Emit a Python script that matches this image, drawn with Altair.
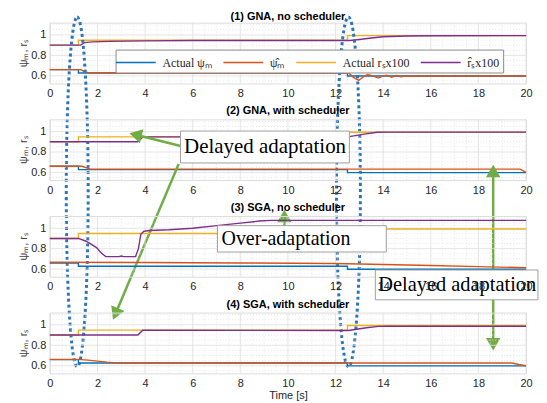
import altair as alt
import pandas as pd

SANS = "Liberation Sans"
SERIF = "Liberation Serif"

SERIES = ["Actual ψₘ", "ψ̂ₘ", "Actual rₛx100", "r̂ₛx100"]
COLORS = ["#0072BD", "#D95319", "#EDB120", "#7E2F8E"]
TITLES = ["(1) GNA, no scheduler", "(2) GNA, with scheduler",
          "(3) SGA, no scheduler", "(4) SGA, with scheduler"]

# actual values (same in every panel)
ACT_PSI_T = [0, 1.2, 1.2, 12.5, 12.5, 20]
ACT_PSI_V = [0.66, 0.66, 0.627, 0.627, 0.598, 0.598]
ACT_RS_T = [0, 1.2, 1.2, 12.5, 12.5, 20]
ACT_RS_V = [0.90, 0.90, 0.948, 0.948, 0.993, 0.993]

# panel 1: GNA, no scheduler
P1_PSI_T = [0, 1.3, 1.5, 1.7, 3, 12.55, 12.75, 12.97, 13.2, 13.35, 13.55, 13.8, 14.0, 14.15,
            14.35, 14.55, 14.75, 14.95, 15.2, 15.5, 20]
P1_PSI_V = [0.66, 0.66, 0.635, 0.628, 0.627, 0.627, 0.585, 0.555, 0.595, 0.612, 0.60, 0.578,
            0.60, 0.606, 0.585, 0.603, 0.59, 0.60, 0.595, 0.598, 0.598]
P1_RS_T = [0, 1.3, 1.45, 1.8, 2.5, 4, 6, 12.6, 13.0, 13.5, 14.0, 15, 16, 20]
P1_RS_V = [0.90, 0.90, 0.925, 0.932, 0.937, 0.942, 0.945, 0.945, 0.955, 0.97, 0.982, 0.99,
           0.992, 0.993]

# panel 2: GNA, with scheduler
P2_PSI_T = [0, 1.35, 1.7, 19.75, 20]
P2_PSI_V = [0.66, 0.66, 0.632, 0.632, 0.60]
P2_RS_T = [0, 3.7, 3.9, 12.5, 12.7, 13.2, 13.75, 14.2, 20]
P2_RS_V = [0.90, 0.90, 0.948, 0.948, 0.955, 0.975, 0.993, 0.995, 0.995]

# panel 3: SGA, no scheduler
P3_PSI_T = [0, 4, 8, 12, 14, 16, 18, 20]
P3_PSI_V = [0.667, 0.664, 0.66, 0.655, 0.645, 0.635, 0.624, 0.613]
P3_RS_T = [0, 1.2, 1.5, 1.68, 1.96, 2.15, 2.35, 2.9, 3.0, 3.1, 3.6, 3.72, 3.82, 3.95, 4.2, 5,
           6, 7, 8, 8.8, 9.3, 20]
P3_RS_V = [0.90, 0.90, 0.875, 0.852, 0.81, 0.76, 0.722, 0.722, 0.728, 0.722, 0.722, 0.80,
           0.94, 0.97, 0.978, 0.985, 1.0, 1.025, 1.05, 1.07, 1.077, 1.077]

# panel 4: SGA, with scheduler
P4_PSI_T = [0, 1.2, 1.6, 2.0, 2.4, 2.8, 3.2, 19.4, 19.7, 20]
P4_PSI_V = [0.662, 0.662, 0.655, 0.645, 0.635, 0.628, 0.626, 0.626, 0.612, 0.60]
P4_RS_T = [0, 3.7, 3.9, 12.55, 12.8, 13.3, 13.8, 14.2, 20]
P4_RS_V = [0.90, 0.90, 0.948, 0.945, 0.955, 0.972, 0.985, 0.987, 0.987]

EST = {1: (P1_PSI_T, P1_PSI_V, P1_RS_T, P1_RS_V),
       2: (P2_PSI_T, P2_PSI_V, P2_RS_T, P2_RS_V),
       3: (P3_PSI_T, P3_PSI_V, P3_RS_T, P3_RS_V),
       4: (P4_PSI_T, P4_PSI_V, P4_RS_T, P4_RS_V)}

X_TICKS = [0, 2, 4, 6, 8, 10, 12, 14, 16, 18, 20]
Y_TICKS = [0.6, 0.8, 1.0]
X_MINOR = [i * 0.5 for i in range(41) if i % 4 != 0]
Y_MINOR = [0.55, 0.65, 0.7, 0.75, 0.85, 0.9, 0.95, 1.05, 1.1]

# annotations (data units of the panel they are drawn in)
ELL_T = [1.15, 12.54]
ELL_V = [-0.537, -0.537]
ELL_RX = [0.0627, 0.0684]

BOX_PANEL = [2, 3, 3]
BOX_LABEL = ["Delayed adaptation", "Over-adaptation", "Delayed adaptation"]
BOX_T0 = [5.49, 7.04, 13.67]
BOX_T1 = [12.58, 14.13, 20.5]
BOX_V0 = [0.693, 0.767, 0.299]
BOX_V1 = [1.005, 1.025, 0.591]
TXT_T = [9.04, 7.21, 13.79]
TXT_V = [0.849, 0.894, 0.445]
TXT_ALIGN = ["center", "left", "left"]
TXT_SIZE = [21, 20, 20.5]

# green arrows, all in panel-2 data units
AR_T0 = [5.62, 5.41, 18.62, 9.85]
AR_V0 = [0.851, 0.683, 0.615, 0.063]
AR_T1 = [3.60, 2.755, 18.62, 9.85]
AR_V1 = [0.969, -0.785, -1.083, 0.173]

HD_T = [3.60, 2.755, 18.62, 18.62, 9.85]
HD_V = [0.969, -0.785, 0.615, -1.083, 0.173]
HD_ANGLE = [284, 203, 0, 180, 0]

GREEN = "#70AD47"
DOTBLUE = "#2E75B6"
W, H = 478, 61
XD = [0, 20]
YD = [0.525, 1.12]
KAPPA = 0.5523


def ellipse_path(a):
    k = KAPPA
    return (f"M0,-1C{k*a:.4f},-1 {a:.4f},{-k} {a:.4f},0"
            f"C{a:.4f},{k} {k*a:.4f},1 0,1"
            f"C{-k*a:.4f},1 {-a:.4f},{k} {-a:.4f},0"
            f"C{-a:.4f},{-k} {-k*a:.4f},-1 0,-1Z")


def lines_df(k):
    pt, pv, rt, rv = EST[k]
    rows = []
    for name, ts, vs in zip(SERIES, [ACT_PSI_T, pt, ACT_RS_T, rt], [ACT_PSI_V, pv, ACT_RS_V, rv]):
        for i, (t, v) in enumerate(zip(ts, vs)):
            rows.append({"t": t, "v": v, "s": name, "i": i})
    return pd.DataFrame(rows)


def panel(k):
    xaxis = alt.Axis(values=X_TICKS, format="d", grid=False, domain=False, ticks=False,
                     labelPadding=4, labelFontSize=11, labelFont=SANS, labelColor="#262626",
                     labelFlush=False, labelOverlap=False,
                     title="Time [s]" if k == 4 else None, titleFont=SANS, titleFontSize=11,
                     titleFontWeight="normal", titleColor="#262626", titlePadding=1,
                     zindex=1 if k == 3 else 0)
    yaxis = alt.Axis(values=Y_TICKS, format="~g", grid=False, domain=False, ticks=False,
                     labelPadding=4, labelFontSize=11, labelFont=SANS, labelColor="#262626",
                     labelOverlap=False,
                     title="ψₘ, rₛ", titleFont=SANS, titleFontSize=11, titleFontWeight="normal",
                     titleColor="#404040", titlePadding=2)
    xs = alt.Scale(domain=XD, nice=False, zero=False)
    ys = alt.Scale(domain=YD, nice=False, zero=False)
    xe = alt.X("t:Q", scale=xs, axis=xaxis)
    ye = alt.Y("v:Q", scale=ys, axis=yaxis)

    layers = [
        alt.Chart(pd.DataFrame({"t": X_MINOR})).mark_rule(color="#e2e2e2", strokeWidth=0.8,
                                                         strokeDash=[1, 2]).encode(x=xe),
        alt.Chart(pd.DataFrame({"v": Y_MINOR})).mark_rule(color="#e2e2e2", strokeWidth=0.8,
                                                         strokeDash=[1, 2]).encode(y=ye),
        alt.Chart(pd.DataFrame({"t": X_TICKS})).mark_rule(color="#dedede", strokeWidth=0.8).encode(x=xe),
        alt.Chart(pd.DataFrame({"v": Y_TICKS})).mark_rule(color="#dedede", strokeWidth=0.8).encode(y=ye),
    ]
    if k == 1:
        leg = alt.Legend(orient="none", legendX=66, legendY=27, direction="horizontal", columns=4,
                         title=None, fillColor="white", strokeColor="#8c8c8c", padding=4,
                         labelFont=SERIF, labelFontSize=12, labelColor="#262626",
                         symbolType="M-2.5,0H2.5", symbolSize=256, symbolStrokeWidth=1.6,
                         symbolOffset=7.3, labelOffset=17.7, columnPadding=8, cornerRadius=0)
    else:
        leg = None
    layers.append(
        alt.Chart(lines_df(k)).mark_line(strokeWidth=1.4).encode(
            x=xe, y=ye,
            color=alt.Color("s:N", scale=alt.Scale(domain=SERIES, range=COLORS), legend=leg),
            order=alt.Order("i:Q"))
    )

    if k == 1:
        for t, v, rx in zip(ELL_T, ELL_V, ELL_RX):
            layers.append(
                alt.Chart(pd.DataFrame({"t": [t], "v": [v]})).mark_point(
                    shape=ellipse_path(rx), size=123201, filled=False, stroke=DOTBLUE,
                    strokeWidth=3, strokeDash=[3, 3], strokeJoin="round", opacity=1).encode(x=xe, y=ye))

    if k == 2:
        ar = pd.DataFrame({"t": AR_T0, "v": AR_V0, "t2": AR_T1, "v2": AR_V1})
        layers.append(alt.Chart(ar).mark_rule(color=GREEN, strokeWidth=2.5).encode(
            x=xe, y=ye, x2="t2:Q", y2="v2:Q"))
        hd = pd.DataFrame({"t": HD_T, "v": HD_V, "a": HD_ANGLE})
        layers.append(alt.Chart(hd).mark_point(shape="triangle-up", size=210, filled=True,
                                               color=GREEN, opacity=1).encode(
            x=xe, y=ye, angle=alt.Angle("a:Q", scale=None)))

    for j in range(len(BOX_LABEL)):
        if BOX_PANEL[j] != k:
            continue
        bx = pd.DataFrame({"t": [BOX_T0[j]], "t2": [BOX_T1[j]], "v": [BOX_V0[j]], "v2": [BOX_V1[j]]})
        layers.append(alt.Chart(bx).mark_rect(fill="white", stroke="#a0a0a0", strokeWidth=1,
                                              strokeJoin="round").encode(
            x=xe, x2="t2:Q", y=ye, y2="v2:Q"))
        tx = pd.DataFrame({"t": [TXT_T[j]], "v": [TXT_V[j]], "s": [BOX_LABEL[j]]})
        layers.append(alt.Chart(tx).mark_text(font=SERIF, fontSize=TXT_SIZE[j], align=TXT_ALIGN[j],
                                              baseline="middle", color="black").encode(
            x=xe, y=ye, text="s:N"))

    tp = dict(font=SANS, fontSize=11, fontWeight="bold", color="black", offset=2.5)
    if k == 1:
        tp["dy"] = 8.7
    return alt.layer(*layers).properties(
        width=W, height=H, title=alt.TitleParams(TITLES[k - 1], **tp))


chart = alt.vconcat(*[panel(k) for k in range(1, 5)], spacing=36, bounds="flush").resolve_legend(
    color="independent").properties(
    padding={"left": 9, "top": 1, "right": 0, "bottom": 0}).configure_view(
    stroke="#6e6e6e", strokeWidth=1).configure(background="white")

chart.save("out.html", embed_options={"renderer": "svg", "actions": False})
